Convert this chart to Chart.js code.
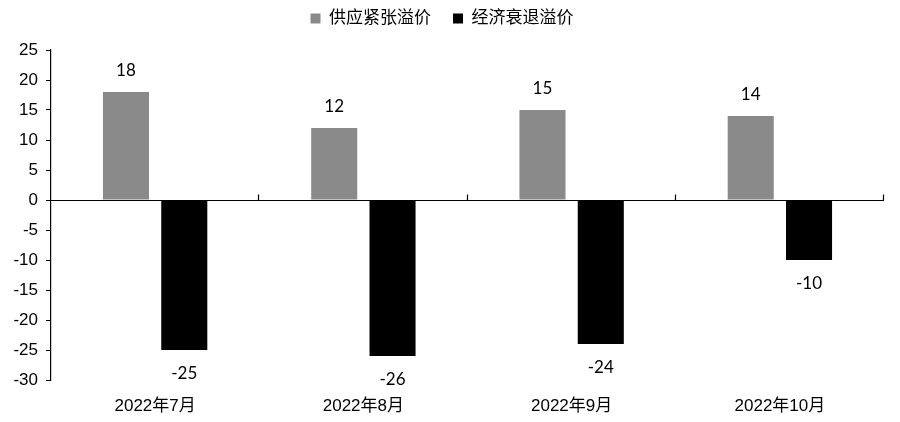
<!DOCTYPE html>
<html>
<head>
<meta charset="utf-8">
<script src="https://cdn.jsdelivr.net/npm/chart.js@4"></script>
<style>
  html, body { margin: 0; padding: 0; background: #fff; }
  #wrap { width: 900px; height: 422px; }
</style>
</head>
<body>
<div id="wrap"><canvas id="chart1"></canvas></div>
<script>
const months = ["2022年7月", "2022年8月", "2022年9月", "2022年10月"];
const supplyPremium = [18, 12, 15, 14];
const recessionPremium = [-25, -26, -24, -10];
const yTicks = [25, 20, 15, 10, 5, 0, -5, -10, -15, -20, -25, -30];

const fontCN = "'Liberation Sans', Arial, 'Noto Sans CJK SC', sans-serif";

// give the legend a bit more room below its row
const legendRoom = {
  id: "legendRoom",
  afterInit(chart) {
    const lg = chart.legend;
    if (!lg) return;
    const fit = lg.fit.bind(lg);
    lg.fit = function () {
      fit();
      this.height += 13;
    };
  }
};

// zero line with tick marks at category boundaries
const zeroLine = {
  id: "zeroLine",
  afterDatasetsDraw(chart) {
    const ctx = chart.ctx;
    const y0 = Math.round(chart.scales.y.getPixelForValue(0)) + 0.5;
    const area = chart.chartArea;
    ctx.save();
    ctx.strokeStyle = "#000";
    ctx.lineWidth = 1.2;
    ctx.beginPath();
    ctx.moveTo(area.left, y0);
    ctx.lineTo(area.right, y0);
    const w = (area.right - area.left) / months.length;
    for (let i = 1; i <= months.length; i++) {
      const bx = Math.round(area.left + i * w) - 0.5;
      ctx.moveTo(bx, y0);
      ctx.lineTo(bx, y0 - 6);
    }
    ctx.stroke();
    ctx.restore();
  }
};

// value labels above / below bars
const barLabels = {
  id: "barLabels",
  afterDatasetsDraw(chart) {
    const ctx = chart.ctx;
    ctx.save();
    ctx.fillStyle = "#000";
    ctx.font = "17px Lato, 'Open Sans', sans-serif";
    ctx.textAlign = "center";
    ctx.textBaseline = "middle";
    chart.data.datasets.forEach((ds, i) => {
      chart.getDatasetMeta(i).data.forEach((bar, j) => {
        const v = ds.data[j];
        const ty = v >= 0 ? bar.y - 21 : bar.y + 24;
        ctx.fillText(String(v), bar.x, ty);
      });
    });
    ctx.restore();
  }
};

const chart = new Chart(document.getElementById("chart1"), {
  type: "bar",
  data: {
    labels: months,
    datasets: [
      {
        label: "供应紧张溢价",
        data: supplyPremium,
        backgroundColor: "#8a8a8a",
        categoryPercentage: 0.56,
        barPercentage: 0.79
      },
      {
        label: "经济衰退溢价",
        data: recessionPremium,
        backgroundColor: "#000000",
        categoryPercentage: 0.56,
        barPercentage: 0.79
      }
    ]
  },
  options: {
    responsive: true,
    maintainAspectRatio: false,
    animation: false,
    layout: { padding: { top: -12, right: 16, left: 0, bottom: 0 } },
    plugins: {
      legend: {
        position: "top",
        labels: {
          boxWidth: 10,
          boxHeight: 10,
          padding: 22,
          color: "#000",
          font: { size: 17, family: fontCN }
        }
      },
      tooltip: { enabled: false }
    },
    scales: {
      x: {
        grid: { display: false },
        border: { display: false },
        afterFit(scale) {
          scale.height = 42;
        },
        ticks: {
          color: "#000",
          padding: 8,
          maxRotation: 0,
          font: { size: 17, family: fontCN }
        }
      },
      y: {
        min: -30,
        max: 25,
        afterBuildTicks(scale) {
          scale.ticks = yTicks.map(v => ({ value: v }));
        },
        afterFit(scale) {
          scale.width = 51;
        },
        grid: {
          display: true,
          drawOnChartArea: false,
          drawTicks: true,
          tickLength: 5,
          color: "#000"
        },
        border: { display: true, color: "#000", width: 1.2 },
        ticks: {
          color: "#000",
          padding: 8,
          font: { size: 17, family: "'Liberation Sans', Arial, sans-serif" }
        }
      }
    }
  },
  plugins: [legendRoom, zeroLine, barLabels]
});
</script>
</body>
</html>
